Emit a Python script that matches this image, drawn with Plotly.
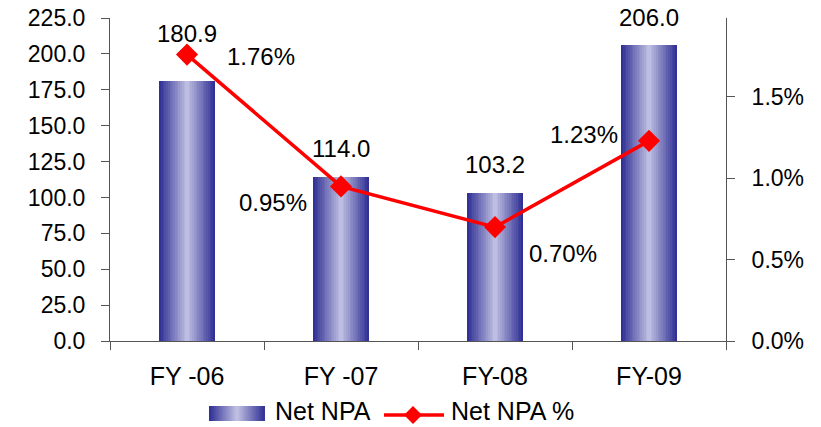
import plotly.graph_objects as go

categories = ["FY -06", "FY -07", "FY-08", "FY-09"]
net_npa = [180.9, 114.0, 103.2, 206.0]
net_npa_pct = [1.76, 0.95, 0.70, 1.23]
left_ticks = [0, 25, 50, 75, 100, 125, 150, 175, 200, 225]
right_ticks = [0.0, 0.5, 1.0, 1.5]
series_names = ["Net NPA", "Net NPA %"]

FONT = "Liberation Sans, Arial, sans-serif"
fig = go.Figure()

N = 16
dark = (50, 50, 150)
light = (190, 190, 226)


def grad_color(k):
    t = k / (N - 1)
    c = tuple(int(dark[i] + (light[i] - dark[i]) * t) for i in range(3))
    return "rgb(%d,%d,%d)" % c


# gradient bars emulated by overlay layers of decreasing width
bar_w = 0.36
for k in range(N):
    fig.add_trace(go.Bar(
        x=categories, y=net_npa, width=bar_w * (1 - k / N),
        marker=dict(color=grad_color(k), line=dict(width=0)),
        name=series_names[0], showlegend=False,
        hoverinfo="skip" if k else None,
    ))

fig.add_trace(go.Scatter(
    x=categories, y=net_npa_pct, yaxis="y2", name=series_names[1],
    mode="lines+markers", showlegend=False,
    line=dict(color="#FF0000", width=3.5),
    marker=dict(symbol="diamond", size=17, color="#FF0000"),
))

# data labels
bar_shift = [48, 29, 28, 28]
for c, v, s in zip(categories, net_npa, bar_shift):
    fig.add_annotation(x=c, y=v, text="%.1f" % v, showarrow=False,
                       yshift=s, font=dict(family=FONT, size=24, color="black"))
pct_off = [(74, -2), (-68, -16), (68, -26), (-65, 6)]
for c, v, (dx, dy) in zip(categories, net_npa_pct, pct_off):
    fig.add_annotation(x=c, y=v, yref="y2", text="%.2f%%" % v, showarrow=False,
                       xshift=dx, yshift=dy, font=dict(family=FONT, size=24, color="black"))

# manual legend (paper coordinates)
sw_x0, sw_x1, sw_y0, sw_y1 = 0.1607, 0.2516, -0.2012, -0.2477
sw_c = (sw_x0 + sw_x1) / 2
sw_h = (sw_x1 - sw_x0) / 2
for k in range(N):
    hw = sw_h * (1 - k / N)
    fig.add_shape(type="rect", xref="paper", yref="paper",
                  x0=sw_c - hw, x1=sw_c + hw, y0=sw_y0, y1=sw_y1,
                  line=dict(width=0), fillcolor=grad_color(k))
fig.add_annotation(xref="paper", yref="paper", x=0.2646, y=-0.2167,
                   xanchor="left", yanchor="middle", showarrow=False,
                   text=series_names[0], font=dict(family=FONT, size=25, color="black"))
fig.add_shape(type="line", xref="paper", yref="paper", x0=0.4448, x1=0.5422,
              y0=-0.2291, y1=-0.2291, line=dict(color="#FF0000", width=3.5))
fig.add_shape(type="path", xref="paper", yref="paper", xsizemode="pixel",
              ysizemode="pixel", xanchor=0.4919, yanchor=-0.2291,
              path="M -9 0 L 0 9 L 9 0 L 0 -9 Z",
              fillcolor="#FF0000", line=dict(width=0))
fig.add_annotation(xref="paper", yref="paper", x=0.5503, y=-0.2167,
                   xanchor="left", yanchor="middle", showarrow=False,
                   text=series_names[1], font=dict(family=FONT, size=25, color="black"))

axis_col = "#555555"
fig.update_layout(
    width=821, height=427,
    margin=dict(l=110, r=95, t=18, b=86, autoexpand=False),
    paper_bgcolor="white", plot_bgcolor="white",
    barmode="overlay", bargap=0,
    font=dict(family=FONT, size=22, color="black"),
    showlegend=False,
    xaxis=dict(
        type="category", showline=True, linecolor=axis_col, linewidth=1,
        ticks="outside", tickson="boundaries", ticklen=8, tickcolor=axis_col,
        ticklabelstandoff=13, showgrid=False, range=[-0.5, 3.5],
        tickfont=dict(size=25),
    ),
    yaxis=dict(
        range=[0, 225], tickvals=left_ticks,
        ticktext=["%.1f" % v for v in left_ticks],
        showline=True, linecolor=axis_col, ticks="outside", ticklen=8,
        tickcolor=axis_col, showgrid=False, zeroline=False,
        ticklabelstandoff=11, tickfont=dict(size=23),
    ),
    yaxis2=dict(
        overlaying="y", side="right", range=[0, 1.985],
        tickvals=right_ticks, ticktext=["%.1f%%" % v for v in right_ticks],
        showline=True, linecolor=axis_col, ticks="outside", ticklen=8,
        tickcolor=axis_col, showgrid=False, zeroline=False,
        ticklabelstandoff=12, tickfont=dict(size=23),
    ),
)

fig.write_html("out.html")
